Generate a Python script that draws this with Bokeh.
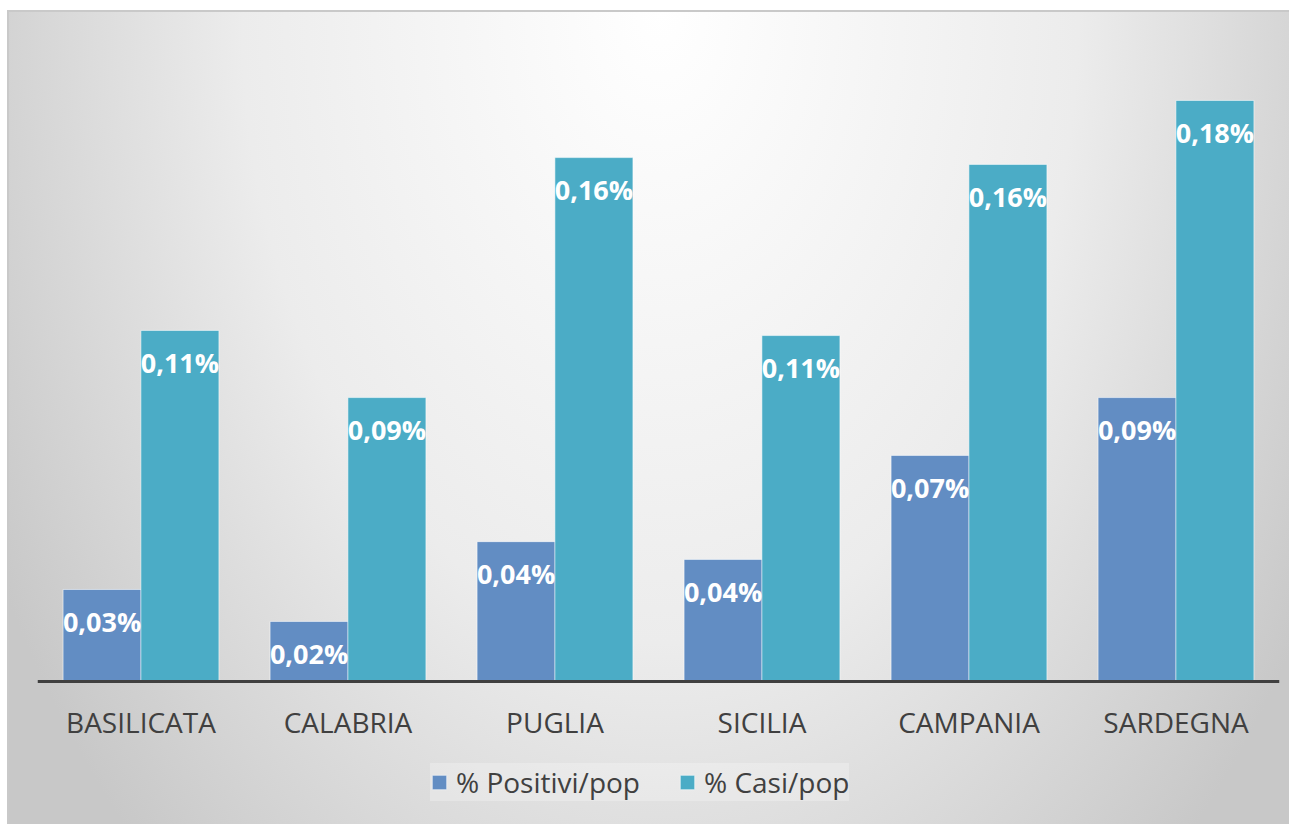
from bokeh.plotting import figure
from bokeh.models import ColumnDataSource, FactorRange, Range1d, Legend, LegendItem, Span
from bokeh.transform import dodge
from bokeh.embed import file_html
from bokeh.resources import INLINE
from bokeh.core.properties import value

# ---- data ----
regions = ["BASILICATA", "CALABRIA", "PUGLIA", "SICILIA", "CAMPANIA", "SARDEGNA"]
positivi = [0.0285, 0.0186, 0.0433, 0.0378, 0.0700, 0.0879]   # % Positivi/pop
casi = [0.1087, 0.0879, 0.1622, 0.1071, 0.1601, 0.1799]       # % Casi/pop
series_names = ["% Positivi/pop", "% Casi/pop"]
colors = ["#628DC3", "#4BACC6"]
y_max = 0.2


def fmt(v):
    return f"{v:.2f}%".replace(".", ",")


src = ColumnDataSource(dict(
    region=regions,
    zero=[0] * len(regions),
    pos=positivi,
    casi=casi,
    pos_lbl=[fmt(v) for v in positivi],
    casi_lbl=[fmt(v) for v in casi],
))

FONT = value("Open Sans")

# frame: top at 35px, bottom at 824px; baseline (y=0) at 681px
top_px, base_px, bottom_px = 35, 681, 824
y_min = -y_max * (bottom_px - base_px) / (base_px - top_px)

p = figure(
    x_range=FactorRange(*regions, range_padding=0),
    y_range=Range1d(y_min, y_max),
    width=1289, height=824,
    output_backend="svg", toolbar_location=None,
    x_axis_location=None, y_axis_location=None,
    min_border_left=37, min_border_right=10,
    min_border_top=top_px, min_border_bottom=0,
)
p.background_fill_alpha = 0
p.border_fill_alpha = 0
p.outline_line_color = None
p.grid.grid_line_color = None
p.styles = {
    "background": "radial-gradient(ellipse 760px 1150px at 660px 10px, #ffffff 0%, #ececec 55%, #c8c8c8 100%)",
    "box-shadow": "inset 7px 10px 0 0 #ffffff, inset 9px 12px 0 0 #c9c9c9",
}

off = 0.188
bw = 0.377
r1 = p.vbar(x=dodge("region", -off, range=p.x_range), top="pos", width=bw, source=src,
            fill_color=colors[0], line_color="white", line_alpha=0.55, line_width=1)
r2 = p.vbar(x=dodge("region", off, range=p.x_range), top="casi", width=bw, source=src,
            fill_color=colors[1], line_color="white", line_alpha=0.55, line_width=1)

for xo, col, lbl in [(-off, "pos", "pos_lbl"), (off, "casi", "casi_lbl")]:
    p.text(x=dodge("region", xo, range=p.x_range), y=col, text=lbl, source=src,
           text_align="center", text_baseline="middle", y_offset=32,
           text_color="white", text_font=FONT, text_font_style="bold",
           text_font_size="27px")

# baseline (category axis line)
p.add_layout(Span(location=0, dimension="width", line_color="#404040", line_width=3))

# category labels
p.text(x="region", y="zero", text="region", source=src,
       text_align="center", text_baseline="middle", y_offset=40,
       text_color="#404040", text_font=FONT, text_font_size="28px")

legend = Legend(
    items=[LegendItem(label=series_names[0], renderers=[r1]),
           LegendItem(label=series_names[1], renderers=[r2])],
    orientation="horizontal",
    location=(393, 23),
    label_text_font="Open Sans", label_text_font_size="28px", label_text_color="#404040",
    glyph_width=18, glyph_height=18, label_standoff=8, spacing=38,
    padding=19, margin=0,
    background_fill_color="white", background_fill_alpha=0.25,
    border_line_color=None,
)
p.add_layout(legend, "center")

open("out.html", "w").write(file_html(p, INLINE))
